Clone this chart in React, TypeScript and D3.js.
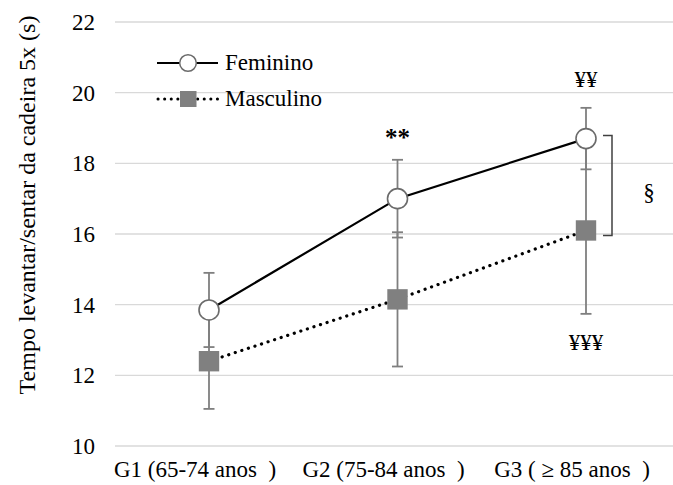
import React from 'react';
import * as d3 from 'd3';

const categories = ['G1 (65-74 anos\u00a0\u00a0)', 'G2 (75-84 anos\u00a0\u00a0)', 'G3 (\u00a0\u2265 85 anos\u00a0\u00a0)'];
const femininoMean = [13.85, 17.0, 18.7];
const femininoSd = [1.05, 1.1, 0.87];
const masculinoMean = [12.4, 14.15, 16.1];
const masculinoSd = [1.35, 1.9, 2.36];
const yTicks = [10, 12, 14, 16, 18, 20, 22];
const seriesNames = ['Feminino', 'Masculino'];

const width = 673;
const height = 485;
const serif = '"Liberation Serif", "Times New Roman", serif';
const barColor = '#7f7f7f';
const fs = 23;

export default function App() {
  const x = d3.scalePoint<number>().domain([0, 1, 2]).range([209, 586]);
  const y = d3.scaleLinear().domain([10, 22]).range([446, 22]);
  const line = d3.line<number>().x((_, i) => x(i)!).y((d) => y(d));

  const errBar = (mean: number[], sd: number[], key: string) =>
    mean.map((m, i) => {
      const cx = x(i)!;
      const top = y(m + sd[i]);
      const bot = y(m - sd[i]);
      return (
        <g key={key + i} stroke={barColor} strokeWidth={1.8}>
          <line x1={cx} x2={cx} y1={top} y2={bot} />
          <line x1={cx - 5.5} x2={cx + 5.5} y1={top} y2={top} />
          <line x1={cx - 5.5} x2={cx + 5.5} y1={bot} y2={bot} />
        </g>
      );
    });

  return (
    <svg width={width} height={height} style={{ position: 'absolute', left: 0, top: 0, background: '#fff' }}>
      {/* grid + y ticks */}
      {yTicks.map((t) => (
        <g key={t}>
          <line x1={115} x2={673} y1={y(t)} y2={y(t)} stroke="#d9d9d9" strokeWidth={1.3} />
          <text x={95} y={y(t) + 8} textAnchor="end" fontSize={fs} fontFamily={serif} fill="#000">
            {t}
          </text>
        </g>
      ))}

      {/* x labels */}
      {categories.map((c, i) => (
        <text key={c} x={x(i)! - 14} y={477} textAnchor="middle" fontSize={fs} fontFamily={serif} fill="#000" style={{ whiteSpace: 'pre' }}>
          {c}
        </text>
      ))}

      {/* y title */}
      <text transform="translate(35,205) rotate(-90)" textAnchor="middle" fontSize={24} fontFamily={serif} fill="#000">
        Tempo levantar/sentar da cadeira 5x (s)
      </text>

      {errBar(femininoMean, femininoSd, 'f')}
      {errBar(masculinoMean, masculinoSd, 'm')}

      <path d={line(femininoMean)!} fill="none" stroke="#000" strokeWidth={2.2} />
      <path d={line(masculinoMean)!} fill="none" stroke="#000" strokeWidth={3.2} strokeDasharray="0.1 6.8" strokeLinecap="round" />

      {femininoMean.map((m, i) => (
        <circle key={'fc' + i} cx={x(i)!} cy={y(m)} r={10} fill="#fff" stroke="#6b6b6b" strokeWidth={1.6} />
      ))}
      {masculinoMean.map((m, i) => (
        <rect key={'mr' + i} x={x(i)! - 10.2} y={y(m) - 10.2} width={20.4} height={20.4} fill="#808080" />
      ))}

      {/* legend */}
      <line x1={157} x2={218} y1={63} y2={63} stroke="#000" strokeWidth={2.2} />
      <circle cx={188} cy={63} r={8.3} fill="#fff" stroke="#6b6b6b" strokeWidth={1.5} />
      <text x={225} y={70} fontSize={fs} fontFamily={serif} fill="#000">{seriesNames[0]}</text>
      <line x1={158} x2={218} y1={99} y2={99} stroke="#000" strokeWidth={3} strokeDasharray="0.1 6.5" strokeLinecap="round" />
      <rect x={180} y={91} width={16.5} height={16} fill="#808080" />
      <text x={225} y={106} fontSize={fs} fontFamily={serif} fill="#000">{seriesNames[1]}</text>

      {/* annotations */}
      <text x={x(1)!} y={146} textAnchor="middle" fontSize={25} fontWeight="bold" fontFamily={serif} fill="#000">**</text>
      <text x={x(2)!} y={87} textAnchor="middle" fontSize={fs} fontFamily={serif} fill="#000">¥¥</text>
      <text x={x(2)!} y={350} textAnchor="middle" fontSize={fs} fontFamily={serif} fill="#000">¥¥¥</text>
      <path d={`M603,${y(femininoMean[2]) - 3}H612V${y(masculinoMean[2]) + 5}H603`} fill="none" stroke="#404040" strokeWidth={1.5} />
      <text x={649} y={200} textAnchor="middle" fontSize={fs} fontFamily={serif} fill="#000">§</text>
    </svg>
  );
}
